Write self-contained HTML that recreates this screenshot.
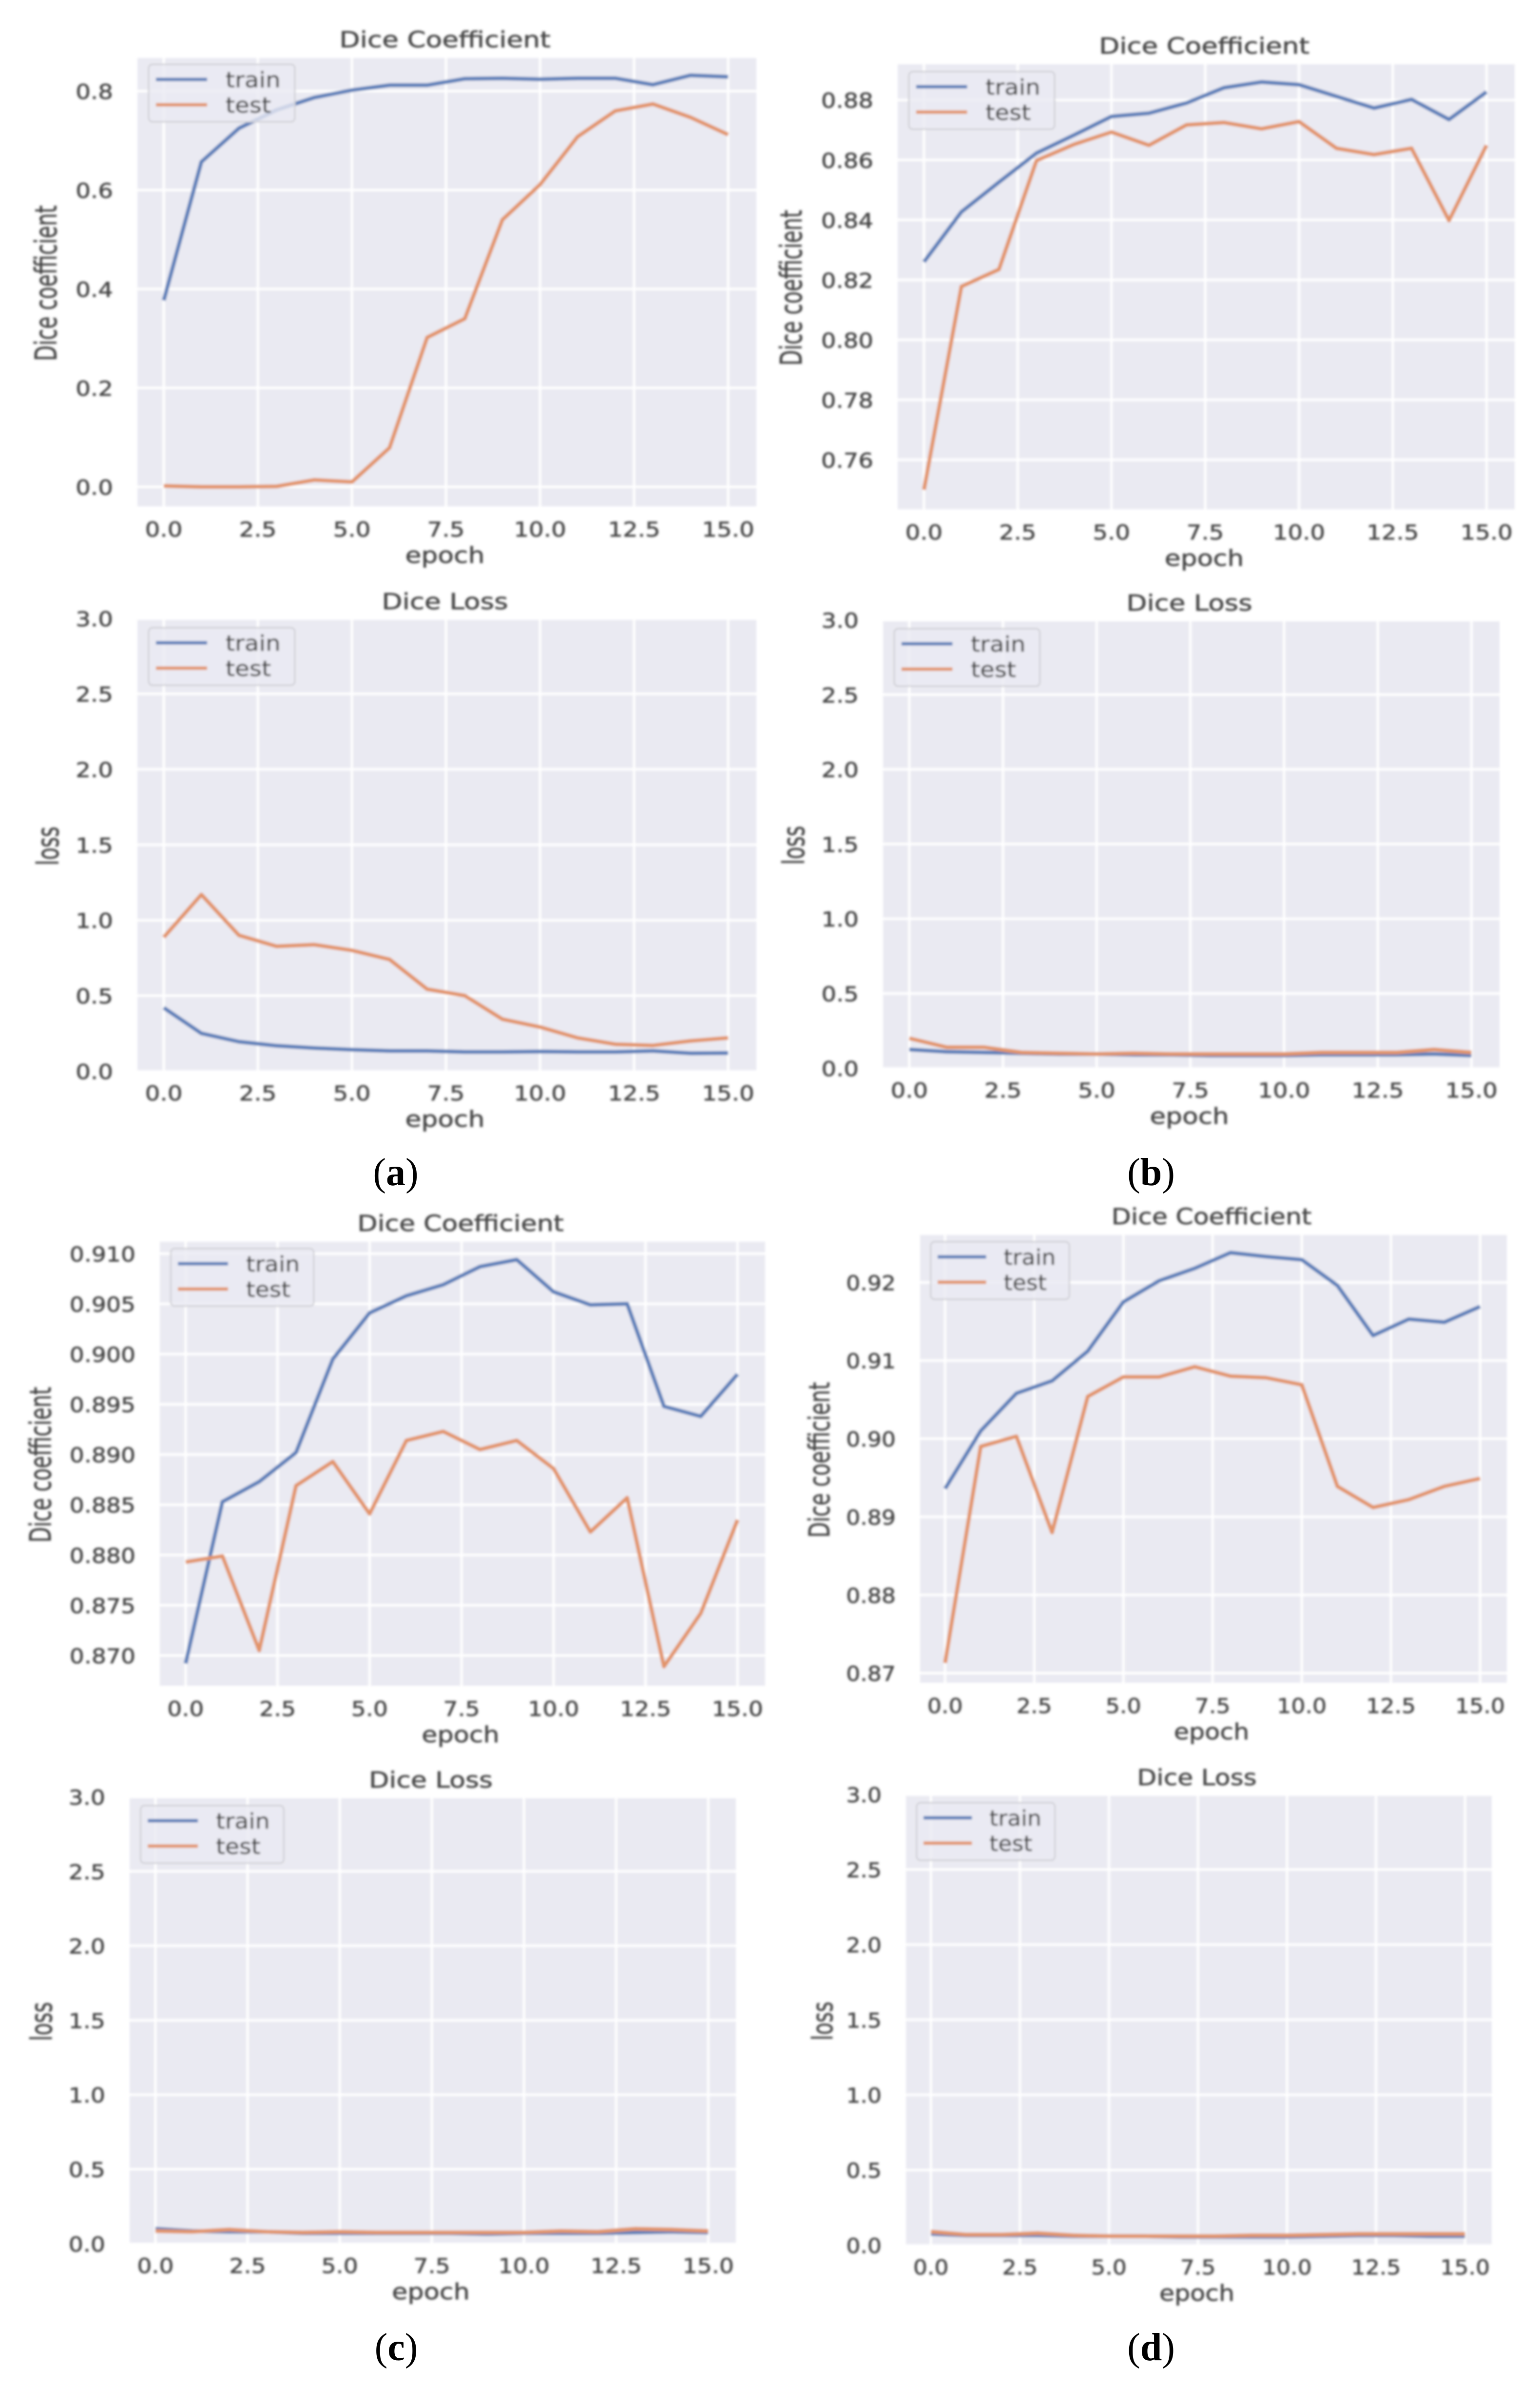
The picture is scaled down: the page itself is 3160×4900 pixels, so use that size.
<!DOCTYPE html>
<html lang="en">
<head>
<meta charset="utf-8">
<title>Dice Coefficient and Dice Loss training curves</title>
<style>
html,body{margin:0;padding:0;background:#fff;}
svg{display:block;}
text{font-family:"DejaVu Sans","Liberation Sans",sans-serif;fill:#444;stroke:#444;stroke-width:0.7px;}
.title{font-size:45px;text-anchor:middle;}
.xlabel{font-size:45px;text-anchor:middle;}
.ylabel{font-size:55px;text-anchor:middle;}
.tick{font-size:42px;}
.legend-text{font-size:44px;}
.caption{font-family:"Liberation Serif",serif;font-size:80px;fill:#000;stroke:none;text-anchor:middle;}
.caption tspan{font-weight:bold;}
</style>
</head>
<body>
<svg id="figure" xmlns="http://www.w3.org/2000/svg" width="3160" height="4900" viewBox="0 0 3160 4900">
<defs>
<filter id="soft" filterUnits="userSpaceOnUse" x="0" y="0" width="3160" height="4900"><feGaussianBlur stdDeviation="2.4"/></filter>
</defs>
<rect x="0" y="0" width="3160" height="4900" fill="#fff"/>
<g filter="url(#soft)">

<g id="panel-a-coef">
<g class="plot"></g>
<g class="legend"><rect width="300" height="118" rx="8" fill="#eaeaf2" fill-opacity="0.8" stroke="#cfcfd4" stroke-width="3"/><line x1="15" x2="120" y1="31" y2="31" stroke="#5b7fb9" stroke-width="7"/><text class="legend-text" transform="translate(158,47) scale(1.1,1)">train</text><line x1="15" x2="120" y1="83" y2="83" stroke="#e2946a" stroke-width="7"/><text class="legend-text" transform="translate(158,99) scale(1.1,1)">test</text></g>
<text class="title">Dice Coefficient</text>
<text class="xlabel">epoch</text>
<text class="ylabel">Dice coefficient</text>
</g>

<g id="panel-a-loss">
<g class="plot"></g>
<g class="legend"><rect width="300" height="118" rx="8" fill="#eaeaf2" fill-opacity="0.8" stroke="#cfcfd4" stroke-width="3"/><line x1="15" x2="120" y1="31" y2="31" stroke="#5b7fb9" stroke-width="7"/><text class="legend-text" transform="translate(158,47) scale(1.1,1)">train</text><line x1="15" x2="120" y1="83" y2="83" stroke="#e2946a" stroke-width="7"/><text class="legend-text" transform="translate(158,99) scale(1.1,1)">test</text></g>
<text class="title">Dice Loss</text>
<text class="xlabel">epoch</text>
<text class="ylabel">loss</text>
</g>

<g id="panel-b-coef">
<g class="plot"></g>
<g class="legend"><rect width="300" height="118" rx="8" fill="#eaeaf2" fill-opacity="0.8" stroke="#cfcfd4" stroke-width="3"/><line x1="15" x2="120" y1="31" y2="31" stroke="#5b7fb9" stroke-width="7"/><text class="legend-text" transform="translate(158,47) scale(1.1,1)">train</text><line x1="15" x2="120" y1="83" y2="83" stroke="#e2946a" stroke-width="7"/><text class="legend-text" transform="translate(158,99) scale(1.1,1)">test</text></g>
<text class="title">Dice Coefficient</text>
<text class="xlabel">epoch</text>
<text class="ylabel">Dice coefficient</text>
</g>

<g id="panel-b-loss">
<g class="plot"></g>
<g class="legend"><rect width="300" height="118" rx="8" fill="#eaeaf2" fill-opacity="0.8" stroke="#cfcfd4" stroke-width="3"/><line x1="15" x2="120" y1="31" y2="31" stroke="#5b7fb9" stroke-width="7"/><text class="legend-text" transform="translate(158,47) scale(1.1,1)">train</text><line x1="15" x2="120" y1="83" y2="83" stroke="#e2946a" stroke-width="7"/><text class="legend-text" transform="translate(158,99) scale(1.1,1)">test</text></g>
<text class="title">Dice Loss</text>
<text class="xlabel">epoch</text>
<text class="ylabel">loss</text>
</g>

<g id="panel-c-coef">
<g class="plot"></g>
<g class="legend"><rect width="300" height="118" rx="8" fill="#eaeaf2" fill-opacity="0.8" stroke="#cfcfd4" stroke-width="3"/><line x1="15" x2="120" y1="31" y2="31" stroke="#5b7fb9" stroke-width="7"/><text class="legend-text" transform="translate(158,47) scale(1.1,1)">train</text><line x1="15" x2="120" y1="83" y2="83" stroke="#e2946a" stroke-width="7"/><text class="legend-text" transform="translate(158,99) scale(1.1,1)">test</text></g>
<text class="title">Dice Coefficient</text>
<text class="xlabel">epoch</text>
<text class="ylabel">Dice coefficient</text>
</g>

<g id="panel-c-loss">
<g class="plot"></g>
<g class="legend"><rect width="300" height="118" rx="8" fill="#eaeaf2" fill-opacity="0.8" stroke="#cfcfd4" stroke-width="3"/><line x1="15" x2="120" y1="31" y2="31" stroke="#5b7fb9" stroke-width="7"/><text class="legend-text" transform="translate(158,47) scale(1.1,1)">train</text><line x1="15" x2="120" y1="83" y2="83" stroke="#e2946a" stroke-width="7"/><text class="legend-text" transform="translate(158,99) scale(1.1,1)">test</text></g>
<text class="title">Dice Loss</text>
<text class="xlabel">epoch</text>
<text class="ylabel">loss</text>
</g>

<g id="panel-d-coef">
<g class="plot"></g>
<g class="legend"><rect width="300" height="118" rx="8" fill="#eaeaf2" fill-opacity="0.8" stroke="#cfcfd4" stroke-width="3"/><line x1="15" x2="120" y1="31" y2="31" stroke="#5b7fb9" stroke-width="7"/><text class="legend-text" transform="translate(158,47) scale(1.1,1)">train</text><line x1="15" x2="120" y1="83" y2="83" stroke="#e2946a" stroke-width="7"/><text class="legend-text" transform="translate(158,99) scale(1.1,1)">test</text></g>
<text class="title">Dice Coefficient</text>
<text class="xlabel">epoch</text>
<text class="ylabel">Dice coefficient</text>
</g>

<g id="panel-d-loss">
<g class="plot"></g>
<g class="legend"><rect width="300" height="118" rx="8" fill="#eaeaf2" fill-opacity="0.8" stroke="#cfcfd4" stroke-width="3"/><line x1="15" x2="120" y1="31" y2="31" stroke="#5b7fb9" stroke-width="7"/><text class="legend-text" transform="translate(158,47) scale(1.1,1)">train</text><line x1="15" x2="120" y1="83" y2="83" stroke="#e2946a" stroke-width="7"/><text class="legend-text" transform="translate(158,99) scale(1.1,1)">test</text></g>
<text class="title">Dice Loss</text>
<text class="xlabel">epoch</text>
<text class="ylabel">loss</text>
</g>
</g>

<text class="caption" x="812" y="2432">(<tspan>a</tspan>)</text>
<text class="caption" x="2362" y="2432">(<tspan>b</tspan>)</text>
<text class="caption" x="813" y="4843">(<tspan>c</tspan>)</text>
<text class="caption" x="2362" y="4843">(<tspan>d</tspan>)</text>
</svg>

<script>
const epochs = [0,1,2,3,4,5,6,7,8,9,10,11,12,13,14,15];
const xTickValues = [0,2.5,5,7.5,10,12.5,15];
const xTickLabels = ['0.0','2.5','5.0','7.5','10.0','12.5','15.0'];

const aCoefTrain = [0.377,0.657,0.725,0.762,0.787,0.802,0.812,0.812,0.825,0.826,0.824,0.826,0.826,0.813,0.832,0.829];
const aCoefTest = [0.002,0,0,0.001,0.014,0.01,0.079,0.302,0.34,0.54,0.611,0.708,0.76,0.774,0.747,0.712];
const aCoefTicks = [0,0.2,0.4,0.6,0.8];
const aCoefTickLabels = ['0.0','0.2','0.4','0.6','0.8'];

const bCoefTrain = [0.826,0.8427,0.8526,0.8623,0.8683,0.8745,0.8756,0.879,0.8841,0.886,0.8851,0.8812,0.8773,0.8802,0.8735,0.8827];
const bCoefTest = [0.75,0.8178,0.8235,0.8598,0.8652,0.8693,0.8649,0.8717,0.8725,0.8704,0.8728,0.8639,0.8618,0.8639,0.8398,0.8649];
const bCoefTicks = [0.76,0.78,0.8,0.82,0.84,0.86,0.88];
const bCoefTickLabels = ['0.76','0.78','0.80','0.82','0.84','0.86','0.88'];

const cCoefTrain = [0.8692,0.8853,0.8873,0.8902,0.8995,0.9041,0.9058,0.9069,0.9087,0.9094,0.9062,0.9049,0.905,0.8948,0.8938,0.898];
const cCoefTest = [0.8793,0.8799,0.8705,0.8869,0.8893,0.8841,0.8914,0.8923,0.8905,0.8914,0.8886,0.8823,0.8857,0.8689,0.8742,0.8835];
const cCoefTicks = [0.87,0.875,0.88,0.885,0.89,0.895,0.9,0.905,0.91];
const cCoefTickLabels = ['0.870','0.875','0.880','0.885','0.890','0.895','0.900','0.905','0.910'];

const dCoefTrain = [0.8936,0.901,0.9058,0.9074,0.9112,0.9175,0.9202,0.9218,0.9238,0.9233,0.9229,0.9196,0.9132,0.9153,0.9149,0.9169];
const dCoefTest = [0.8713,0.899,0.9003,0.888,0.9054,0.9079,0.9079,0.9092,0.908,0.9078,0.9069,0.8939,0.8912,0.8922,0.8939,0.8949];
const dCoefTicks = [0.87,0.88,0.89,0.9,0.91,0.92];
const dCoefTickLabels = ['0.87','0.88','0.89','0.90','0.91','0.92'];

const lossTicks = [0,0.5,1,1.5,2,2.5,3];
const lossTickLabels = ['0.0','0.5','1.0','1.5','2.0','2.5','3.0'];

const aLossTrain = [0.42,0.25,0.195,0.168,0.153,0.142,0.134,0.134,0.127,0.127,0.13,0.127,0.127,0.134,0.118,0.12];
const aLossTest = [0.887,1.17,0.9,0.827,0.838,0.8,0.74,0.543,0.5,0.344,0.292,0.22,0.178,0.17,0.2,0.22];

const bLossTrain = [0.125,0.11,0.105,0.1,0.095,0.095,0.09,0.09,0.085,0.085,0.085,0.09,0.09,0.09,0.095,0.085];
const bLossTest = [0.2,0.14,0.14,0.105,0.1,0.095,0.1,0.095,0.095,0.095,0.095,0.105,0.105,0.105,0.125,0.105];

const cLossTrain = [0.1,0.085,0.08,0.08,0.07,0.07,0.07,0.07,0.07,0.065,0.07,0.07,0.07,0.075,0.08,0.075];
const cLossTest = [0.085,0.08,0.095,0.08,0.075,0.08,0.075,0.075,0.075,0.075,0.075,0.085,0.08,0.1,0.095,0.085];

const dLossTrain = [0.075,0.065,0.065,0.065,0.06,0.06,0.06,0.055,0.055,0.055,0.055,0.06,0.065,0.065,0.06,0.06];
const dLossTest = [0.09,0.07,0.07,0.08,0.065,0.06,0.06,0.06,0.06,0.065,0.065,0.07,0.075,0.075,0.075,0.075];

const SVGNS = 'http://www.w3.org/2000/svg';
const xDomainMin = -0.7;
const xDomainMax = 15.75;

function make(parent, tag, attrs) {
  const el = document.createElementNS(SVGNS, tag);
  for (const k in attrs) el.setAttribute(k, attrs[k]);
  parent.appendChild(el);
  return el;
}

function drawPanel(cfg) {
  const root = document.getElementById(cfg.id);
  const plot = root.querySelector('.plot');
  const w = cfg.right - cfg.left;
  const kx = w / 1270;
  const xScale = v => cfg.left + (v - xDomainMin) / (xDomainMax - xDomainMin) * w;
  const yScale = v => cfg.bottom - (v - cfg.yMin) / (cfg.yMax - cfg.yMin) * (cfg.bottom - cfg.top);

  const bg = make(plot, 'rect', {x: cfg.left, y: cfg.top, width: w, height: cfg.bottom - cfg.top, fill: '#eaeaf2'});
  
  

  xTickValues.forEach((t, i) => {
    const g = make(plot, 'line', {x1: xScale(t), x2: xScale(t), y1: cfg.top, y2: cfg.bottom, stroke: '#fff', 'stroke-width': 5});
    
    
    const lab = make(plot, 'text', {class: 'tick', 'text-anchor': 'middle', transform: 'translate(' + xScale(t) + ',' + (cfg.bottom + 62) + ') scale(' + (1.15 * kx) + ',1)'});
    lab.textContent = xTickLabels[i];
    
    
  });

  cfg.ticks.forEach((t, i) => {
    const yPos = yScale(t);
    if (yPos >= cfg.top && yPos <= cfg.bottom) {
      const g = make(plot, 'line', {x1: cfg.left, x2: cfg.right, y1: yPos, y2: yPos, stroke: '#fff', 'stroke-width': 5});
      
      
    }
    const lab = make(plot, 'text', {class: 'tick', 'text-anchor': 'end', transform: 'translate(' + (cfg.left - 50) + ',' + (yPos + 16) + ') scale(' + (1.15 * kx) + ',1)'});
    lab.textContent = cfg.tickLabels[i];
    
    
  });

  const pathFor = vals => vals.map((v, i) => (i ? 'L' : 'M') + xScale(epochs[i]).toFixed(1) + ' ' + yScale(v).toFixed(1)).join(' ');

  const trainLine = make(plot, 'path', {d: pathFor(cfg.train), fill: 'none', stroke: '#5b7fb9', 'stroke-width': 8, 'stroke-linejoin': 'round'});
  
  

  const testLine = make(plot, 'path', {d: pathFor(cfg.test), fill: 'none', stroke: '#e2946a', 'stroke-width': 8, 'stroke-linejoin': 'round'});
  
  

  root.querySelector('.legend').setAttribute('transform', 'translate(' + (cfg.left + 23 * kx) + ',' + (cfg.top + cfg.legendDy) + ') scale(' + kx + ',1)');

  const cx = (cfg.left + cfg.right) / 2;
  root.querySelector('.title').setAttribute('transform', 'translate(' + (cx - 4) + ',' + (cfg.top - 22) + ') scale(' + (1.22 * kx) + ',1)');
  root.querySelector('.xlabel').setAttribute('transform', 'translate(' + (cx - 4) + ',' + (cfg.bottom + 116) + ') scale(' + (1.19 * kx) + ',1)');
  root.querySelector('.ylabel').setAttribute('transform', 'translate(' + (cfg.left - cfg.yLabelOffset - 3) + ',' + ((cfg.top + cfg.bottom) / 2 + 2) + ') rotate(-90) scale(0.75,' + (1.12 * kx) + ')');
}

drawPanel({id: 'panel-a-coef', left: 282, right: 1552, top: 119, bottom: 1039, yMin: -0.0394, yMax: 0.867, ticks: aCoefTicks, tickLabels: aCoefTickLabels, train: aCoefTrain, test: aCoefTest, legendDy: 13, yLabelOffset: 163});
drawPanel({id: 'panel-a-loss', left: 282, right: 1552, top: 1272, bottom: 2196, yMin: 0.006, yMax: 2.99, ticks: lossTicks, tickLabels: lossTickLabels, train: aLossTrain, test: aLossTest, legendDy: 16, yLabelOffset: 159});
drawPanel({id: 'panel-b-coef', left: 1842, right: 3108, top: 132, bottom: 1045, yMin: 0.7435, yMax: 0.8919, ticks: bCoefTicks, tickLabels: bCoefTickLabels, train: bCoefTrain, test: bCoefTest, legendDy: 15, yLabelOffset: 194});
drawPanel({id: 'panel-b-loss', left: 1812, right: 3077, top: 1275, bottom: 2190, yMin: 0.006, yMax: 2.99, ticks: lossTicks, tickLabels: lossTickLabels, train: bLossTrain, test: bLossTest, legendDy: 15, yLabelOffset: 159});
drawPanel({id: 'panel-c-coef', left: 328, right: 1570, top: 2548, bottom: 3459, yMin: 0.86699, yMax: 0.91118, ticks: cCoefTicks, tickLabels: cCoefTickLabels, train: cCoefTrain, test: cCoefTest, legendDy: 14, yLabelOffset: 221});
drawPanel({id: 'panel-c-loss', left: 266, right: 1510, top: 3690, bottom: 4602, yMin: 0.006, yMax: 2.99, ticks: lossTicks, tickLabels: lossTickLabels, train: cLossTrain, test: cLossTest, legendDy: 15, yLabelOffset: 157});
drawPanel({id: 'panel-d-coef', left: 1888, right: 3092, top: 2534, bottom: 3453, yMin: 0.86876, yMax: 0.92607, ticks: dCoefTicks, tickLabels: dCoefTickLabels, train: dCoefTrain, test: dCoefTest, legendDy: 14, yLabelOffset: 183});
drawPanel({id: 'panel-d-loss', left: 1859, right: 3061, top: 3685, bottom: 4605, yMin: 0.006, yMax: 2.99, ticks: lossTicks, tickLabels: lossTickLabels, train: dLossTrain, test: dLossTest, legendDy: 14, yLabelOffset: 148});
</script>
</body>
</html>
